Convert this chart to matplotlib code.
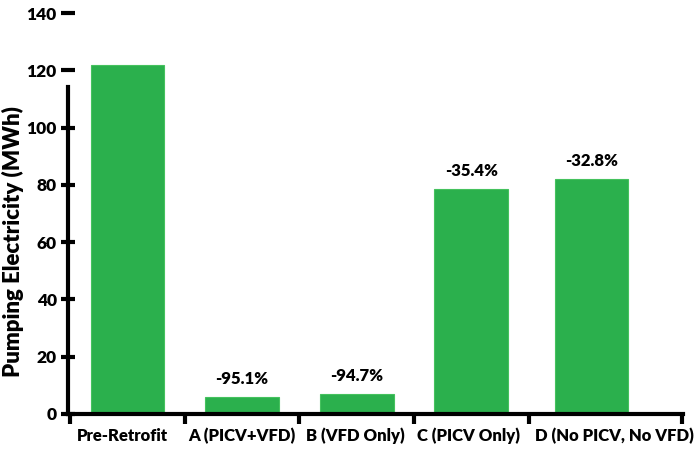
import numpy as np
import matplotlib
matplotlib.use('Agg')
import matplotlib.pyplot as plt

plt.rcParams['font.family'] = ['Lato', 'DejaVu Sans']

categories = ['Pre-Retrofit', 'A (PICV+VFD)', 'B (VFD Only)', 'C (PICV Only)', 'D (No PICV, No VFD)']
energy = [122.0, 6.0, 7.0, 78.5, 82.0]
changes = [None, '-95.1%', '-94.7%', '-35.4%', '-32.8%']
bar_pos = [0, 1, 2, 3, 4.05]
label_pos = [-0.04, 1.0, 1.99, 2.98, 4.25]

fig = plt.figure(figsize=(7, 4.49), dpi=100)
ax = fig.add_axes([0.097, 0.078, 0.879, 0.893])

ax.bar(bar_pos, energy, width=0.645, color='#2bb04d', edgecolor='#45c25e', linewidth=0.8, zorder=2)

for x, v, lab in zip(bar_pos, energy, changes):
    if lab:
        ax.text(x, v + 3.5, lab, ha='center', va='bottom', fontsize=12, fontweight=800)

ax.set_ylim(0, 140)
ax.set_xlim(-0.52, 4.85)
ax.set_yticks(np.arange(0, 141, 20))
ax.set_yticklabels([str(t) for t in range(0, 141, 20)], fontsize=12.5, fontweight=800)

# category labels, boundary ticks as minor ticks
ax.set_xticks(label_pos)
ax.set_xticklabels(categories, fontsize=12, fontweight=800)
ax.tick_params(axis='x', which='major', length=0, pad=10)
ax.set_xticks([-0.5, 0.5, 1.5, 2.5, 3.5, 4.84], minor=True)
ax.tick_params(axis='x', which='minor', length=7, width=3, direction='out')
ax.tick_params(axis='y', length=10, width=3, direction='inout', pad=3)

for s in ['top', 'right']:
    ax.spines[s].set_visible(False)
ax.spines['left'].set_linewidth(3)
ax.spines['bottom'].set_linewidth(3)
ax.spines['left'].set_bounds(0, 114)

ax.set_ylabel('Pumping Electricity (MWh)', fontsize=16, fontweight=800)
ax.yaxis.set_label_coords(-0.072, 0.43)

fig.savefig('out.png', dpi=100)
